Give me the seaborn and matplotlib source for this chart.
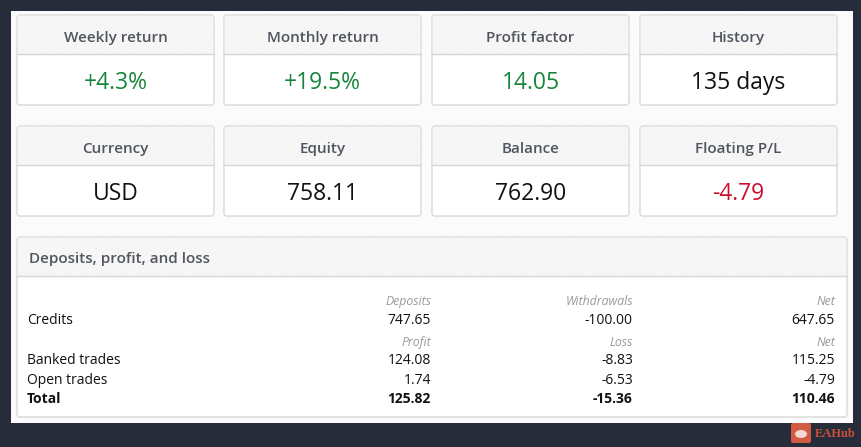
import matplotlib.pyplot as plt
import matplotlib.patches as mpatches
import seaborn as sns

# KPI cards
card_titles = ["Weekly return", "Monthly return", "Profit factor", "History",
               "Currency", "Equity", "Balance", "Floating P/L"]
card_values = ["+4.3%", "+19.5%", "14.05", "135 days",
               "USD", "758.11", "762.90", "-4.79"]
card_tones = ["pos", "pos", "pos", "none", "none", "none", "none", "neg"]

# deposits / profit / loss table
table_title = "Deposits, profit, and loss"
row_labels = ["Credits", "Banked trades", "Open trades", "Total"]
col_heads_credit = ["Deposits", "Withdrawals", "Net"]
col_heads_trade = ["Profit", "Loss", "Net"]
credit_values = ["747.65", "-100.00", "647.65"]
banked_values = ["124.08", "-8.83", "115.25"]
open_values = ["1.74", "-6.53", "-4.79"]
total_values = ["125.82", "-15.36", "110.46"]

tone_colors = {"pos": "#17853a", "neg": "#c8102e", "none": "#111111"}

sns.set_style("white")
plt.rcParams['font.family'] = ['Open Sans', 'DejaVu Sans']
plt.rcParams['hatch.linewidth'] = 0.4

fig = plt.figure(figsize=(8.62, 4.47), dpi=100)
fig.patch.set_facecolor("#272c3a")
ax = fig.add_axes([0, 0, 1, 1])
ax.set_xlim(0, 862)
ax.set_ylim(447, 0)
ax.axis("off")

# white page
ax.add_patch(mpatches.Rectangle((11, 11), 842, 412, facecolor="#fbfbfb", edgecolor="none"))


def draw_card(x, y, w, h, head_h):
    # soft shadow
    ax.add_patch(mpatches.FancyBboxPatch((x, y + 1), w, h, boxstyle="round,pad=0,rounding_size=3",
                                         facecolor="#ebebeb", edgecolor="none"))
    card = mpatches.FancyBboxPatch((x, y), w, h, boxstyle="round,pad=0,rounding_size=3",
                                   facecolor="white", edgecolor="#e0e0e0", linewidth=0.8)
    ax.add_patch(card)
    head = mpatches.Rectangle((x, y), w, head_h, facecolor="#f7f7f7", edgecolor="#f0f0f0",
                              hatch="//////", linewidth=0)
    ax.add_patch(head)
    head.set_clip_path(card)
    ax.plot([x, x + w], [y + head_h, y + head_h], color="#d6d6d6", linewidth=1.0)
    ax.add_patch(mpatches.FancyBboxPatch((x, y), w, h, boxstyle="round,pad=0,rounding_size=3",
                                         facecolor="none", edgecolor="#dedede", linewidth=0.8))


card_x = [17, 224, 432, 640]
card_y = [15, 126]
card_w, card_h, head_h = 197, 90, 39

for i, (title, val, tone) in enumerate(zip(card_titles, card_values, card_tones)):
    x = card_x[i % 4]
    y = card_y[i // 4]
    draw_card(x, y, card_w, card_h, head_h)
    ax.text(x + card_w / 2, y + 27, title, ha="center", va="baseline",
            fontsize=11, color="#50555f", weight="semibold")
    ax.text(x + card_w / 2, y + 74, val, ha="center", va="baseline",
            fontsize=16.5, color=tone_colors[tone])

# table box
tx, ty, tw, th = 17, 237, 830, 180
draw_card(tx, ty, tw, th, 39)
ax.text(29, 263, table_title, ha="left", va="baseline", fontsize=11, color="#50555f",
        weight="semibold")

col_right = [431, 633, 835]
head_y = [305, 346]
row_y = [324, 364, 384, 403]

for cx, h in zip(col_right, col_heads_credit):
    ax.text(cx, head_y[0], h, ha="right", va="baseline", fontsize=8.8, style="italic", color="#999999")
for cx, h in zip(col_right, col_heads_trade):
    ax.text(cx, head_y[1], h, ha="right", va="baseline", fontsize=8.8, style="italic", color="#999999")

rows = [credit_values, banked_values, open_values, total_values]
for k, (lab, vals) in enumerate(zip(row_labels, rows)):
    weight = "bold" if lab == "Total" else "normal"
    ax.text(27, row_y[k], lab, ha="left", va="baseline", fontsize=10, color="#111111", weight=weight)
    for cx, v in zip(col_right, vals):
        ax.text(cx, row_y[k], v, ha="right", va="baseline", fontsize=10, color="#111111", weight=weight)

# watermark
ax.add_patch(mpatches.FancyBboxPatch((791, 423), 20, 20, boxstyle="round,pad=0,rounding_size=2",
                                     facecolor="#d35a43", edgecolor="none"))
ax.add_patch(mpatches.Ellipse((801, 434), 12, 8, facecolor="#f3d9d2", edgecolor="none"))
ax.text(815, 434, "EAHub", ha="left", va="center", fontsize=9, color="#c8503a",
        family=["Liberation Serif", "DejaVu Serif"], weight="bold")

fig.savefig("out.png", dpi=100, facecolor=fig.get_facecolor())
